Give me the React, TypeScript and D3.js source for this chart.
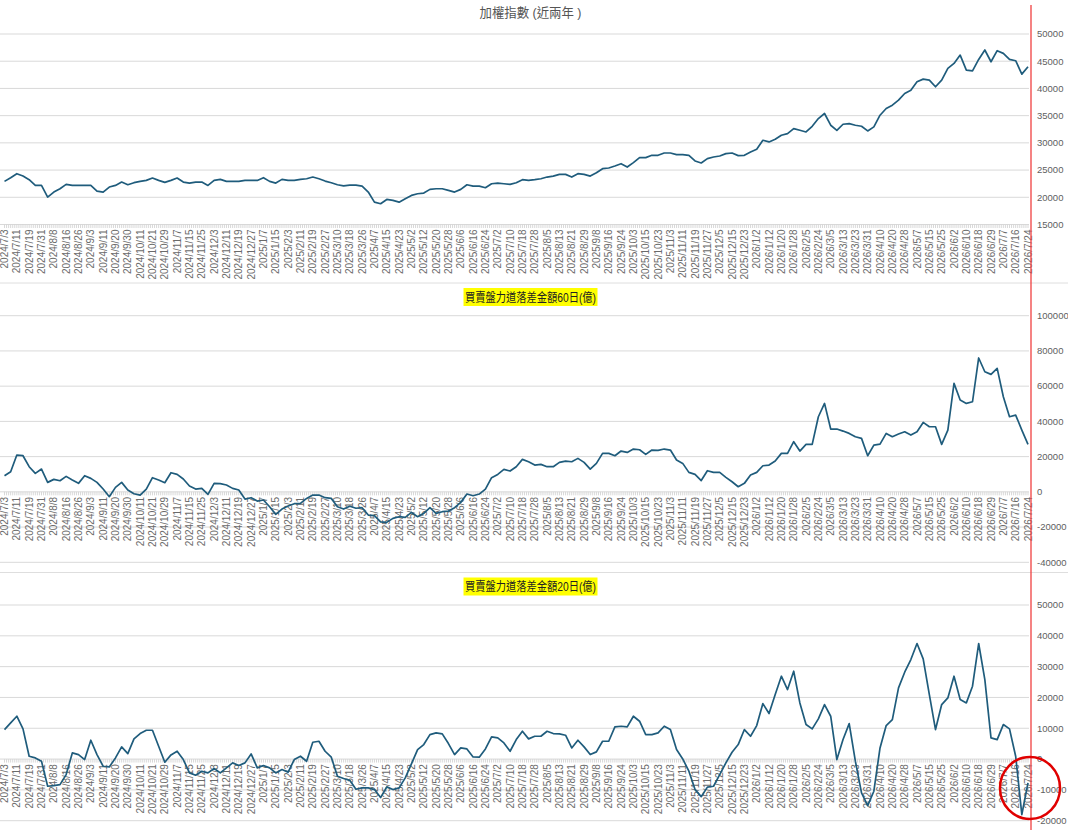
import React from "react";
import * as d3 from "d3";

// ---- data ----
const dateLabels = [
  "2024/7/3","2024/7/11","2024/7/19","2024/7/31","2024/8/8","2024/8/16","2024/8/26","2024/9/3","2024/9/11","2024/9/20","2024/9/30",
  "2024/10/11","2024/10/21","2024/10/29","2024/11/7","2024/11/15","2024/11/25","2024/12/3","2024/12/11","2024/12/19","2024/12/27",
  "2025/1/7","2025/1/15","2025/2/3","2025/2/11","2025/2/19","2025/2/27","2025/3/10","2025/3/18","2025/3/26","2025/4/7","2025/4/15",
  "2025/4/23","2025/5/2","2025/5/12","2025/5/20","2025/5/28","2025/6/6","2025/6/16","2025/6/24","2025/7/2","2025/7/10","2025/7/18",
  "2025/7/28","2025/8/5","2025/8/13","2025/8/21","2025/8/29","2025/9/8","2025/9/16","2025/9/24","2025/10/3","2025/10/15","2025/10/23",
  "2025/11/3","2025/11/11","2025/11/19","2025/11/27","2025/12/5","2025/12/15","2025/12/23","2026/1/2","2026/1/12","2026/1/20",
  "2026/1/28","2026/2/5","2026/2/24","2026/3/5","2026/3/13","2026/3/23","2026/3/31","2026/4/10","2026/4/20","2026/4/28","2026/5/7",
  "2026/5/15","2026/5/25","2026/6/2","2026/6/10","2026/6/18","2026/6/29","2026/7/7","2026/7/16","2026/7/24"
];

// one value every 3 trading days (label every 6 trading days)
const taiex = [
  22920,23600,24330,23900,23230,22180,22180,20030,20950,21570,22370,22180,22180,22180,22180,21140,20950,21880,22180,22800,
  22300,22680,22920,23100,23530,23100,22740,23100,23530,22800,22610,22800,22800,22180,23100,23290,22920,22920,22920,23100,
  23100,23100,23600,22920,22610,23290,23100,23100,23290,23410,23720,23410,22980,22680,22300,22100,22250,22240,22060,20960,
  19110,18810,19600,19420,19110,19730,20340,20650,20770,21450,21570,21570,21260,20960,21450,22300,22060,22060,21750,22490,
  22610,22490,22370,22680,23230,23100,23230,23410,23720,23900,24210,24210,23720,24330,24210,23900,24520,25250,25380,25740,
  26170,25560,26360,27280,27280,27710,27710,28140,28140,27830,27830,27710,26670,26300,27100,27400,27590,28020,28140,27650,
  27710,28320,28820,30470,30170,30660,31400,31700,32620,32310,32000,33050,34460,35390,33240,32310,33420,33540,33240,33050,
  32190,32930,35080,36310,36920,37840,39070,39680,41220,41710,41520,40300,41520,43670,44600,46130,43370,43240,45330,47060,
  44900,46930,46440,45330,45090,42630,43980
];

const diff60 = [
  9160,11430,20890,20510,14270,10480,12940,5370,7080,6320,8780,6700,4810,9160,7640,5370,1590,-2760,2540,5370,
  1020,-1060,-1820,1590,8020,6700,5180,10860,9910,7270,3290,1590,1970,-1440,4810,4620,3860,1970,1020,-4090,
  -3330,-5220,-4650,-8440,-12790,-9760,-8060,-6740,-6550,-3710,-1820,-1820,-3330,-3710,-8440,-9760,-8200,-9300,-9000,-13170,
  -13550,-17000,-17330,-15060,-14120,-14500,-11660,-14120,-12220,-9000,-12220,-11280,-10900,-9000,-5980,-1250,-2190,-1250,1590,8020,
  9910,12750,11810,14270,18430,17100,15210,15590,14270,14270,16730,17480,17100,19000,16730,12940,16160,21840,21840,20510,
  23160,22400,24300,23910,21270,23730,23540,24300,23730,18050,16160,11050,9910,6400,12000,11050,11050,8210,5750,2910,
  4810,9540,11050,14830,15210,17480,21840,21840,28460,23160,26940,26940,42640,50210,35640,35640,34500,33180,31290,30340,
  20510,26560,27130,33180,31290,32800,34120,32230,34120,39410,36950,36950,26940,35070,61560,52100,50210,51150,76000,68190,
  66680,70080,54000,42640,43590,35070,26940
];

const diff20 = [
  9580,11740,13900,9790,920,380,-700,-8820,-8600,-8280,-5030,2000,1460,-160,6110,1460,-2330,-2540,380,3950,
  1790,6550,8280,9360,9360,4170,-1030,1350,2540,-160,-4490,-5250,-3950,-4490,-3080,-4490,-2870,-1240,-2110,-1240,
  1680,-2870,-2110,-2870,-4490,-3410,-4270,-160,920,-700,5460,5790,2540,600,-5570,-6300,-6900,-9800,-9360,-9360,
  -9900,-12500,-9030,-9900,-9360,-6110,-1570,3080,4710,7950,8490,8170,5030,1460,3620,3300,700,600,3300,7200,
  6870,5250,2540,6330,9030,6550,7410,7410,9030,8280,8170,7740,3620,6110,3950,1460,2330,5790,5790,10440,
  10660,10440,13900,12280,7950,7950,8490,10660,9580,3080,50,-3950,-9900,-12200,-9100,-8820,-5030,-1240,2220,4710,
  9580,7410,10870,18010,14770,20940,26890,22560,28510,18230,11200,9790,13040,17690,13900,-160,6330,11520,-700,-10980,
  -15090,-10440,3620,10870,12820,23100,28190,32300,37490,32520,20940,9580,17690,19850,26890,19310,18230,23640,37500,25800,
  6870,6330,11200,9790,920,-18000,-7740
];

const taiexTicks = [15000, 20000, 25000, 30000, 35000, 40000, 45000, 50000];
const diff60Ticks = [-40000, -20000, 0, 20000, 40000, 60000, 80000, 100000];
const diff20Ticks = [-20000, -10000, 0, 10000, 20000, 30000, 40000, 50000];

const SAMPLE_STEP = 3;
const LABEL_STEP = 6;

// ---- layout ----
const W = 1068;
const H = 838;
const LINE_COLOR = "#1f5c7c";
const GRID = "#d9d9d9";
const LATIN = "'Liberation Sans', Arial, sans-serif";
const CJK = "'Liberation Sans', 'Noto Sans CJK TC', sans-serif";

const nDays = (taiex.length - 1) * SAMPLE_STEP + 1;
const x = d3.scaleLinear().domain([0, nDays - 1]).range([4.5, 1028]);

type Panel = {
  key: string;
  title: string;
  highlight: boolean;
  titleY: number;
  titleW: number;
  data: number[];
  ticks: number[];
  yRange: [number, number];
  axisValue: number;
};

const panels: Panel[] = [
  { key: "p1", title: "加權指數 (近兩年 )", highlight: false, titleY: 12.5, titleW: 102, data: taiex, ticks: taiexTicks, yRange: [224.5, 34], axisValue: 15000 },
  { key: "p2", title: "買賣盤力道落差金額60日(億)", highlight: true, titleY: 297, titleW: 131, data: diff60, ticks: diff60Ticks, yRange: [562.3, 315.7], axisValue: 0 },
  { key: "p3", title: "買賣盤力道落差金額20日(億)", highlight: true, titleY: 586.5, titleW: 131, data: diff20, ticks: diff20Ticks, yRange: [820.7, 605], axisValue: 0 },
];

function PanelView({ p }: { p: Panel }) {
  const y = d3.scaleLinear().domain([p.ticks[0], p.ticks[p.ticks.length - 1]]).range(p.yRange);
  const line = d3.line<number>().x((_, j) => x(j * SAMPLE_STEP)).y((d) => y(d));
  const y0 = y(p.axisValue);
  const days = d3.range(nDays);
  return (
    <g>
      {p.ticks.filter((t) => t !== p.axisValue).map((t) => (
        <line key={t} x1={0} x2={1029} y1={y(t)} y2={y(t)} stroke={GRID} strokeWidth={1} />
      ))}
      <line x1={0} x2={1029} y1={y0} y2={y0} stroke={GRID} strokeWidth={1} />
      {days.map((i) => (
        <line key={i} x1={x(i)} x2={x(i)} y1={y0} y2={y0 + 3.5} stroke="#d4d4d4" strokeWidth={0.9} />
      ))}
      {dateLabels.map((lab, k) => (
        <text key={lab} transform={`translate(${x(k * LABEL_STEP)},${y0 + 5}) rotate(-90)`} textAnchor="end" dy="0.35em"
          fontFamily={LATIN} fontSize={10} fill="#6a6a6a">{lab}</text>
      ))}
      {p.ticks.map((t) => (
        <text key={"l" + t} x={1037} y={y(t)} dy="0.35em" fontFamily={LATIN} fontSize={9.5} fill="#606060">{t}</text>
      ))}
      <path d={line(p.data) || ""} fill="none" stroke={LINE_COLOR} strokeWidth={1.7} strokeLinejoin="round" />
      {p.highlight && (
        <rect x={530.5 - p.titleW / 2 - 1.5} y={p.titleY - 9} width={p.titleW + 3} height={18} fill="#ffff00" />
      )}
      <text x={530.5} y={p.titleY} dy="0.36em" textAnchor="middle" fontFamily={CJK} fontSize={p.highlight ? 12.5 : 13}
        fill={p.highlight ? "#222" : "#555"} textLength={p.titleW} lengthAdjust="spacingAndGlyphs">{p.title}</text>
    </g>
  );
}

export default function App() {
  return (
    <div style={{ position: "fixed", left: 0, top: 0, width: W, height: H, background: "#fff" }}>
      <svg width={W} height={H} viewBox={`0 0 ${W} ${H}`} style={{ display: "block" }}>
        <rect width={W} height={H} fill="#fff" />
        <line x1={0} x2={W} y1={283} y2={283} stroke="#dedede" strokeWidth={1} />
        <line x1={0} x2={W} y1={572.5} y2={572.5} stroke="#dedede" strokeWidth={1} />
        {panels.map((p) => (
          <PanelView key={p.key} p={p} />
        ))}
        <line x1={1031} x2={1031} y1={5} y2={830} stroke="#f04040" strokeWidth={1.3} />
        <ellipse cx={1030} cy={788} rx={30} ry={31} fill="none" stroke="#e00000" strokeWidth={2.5} />
      </svg>
    </div>
  );
}
